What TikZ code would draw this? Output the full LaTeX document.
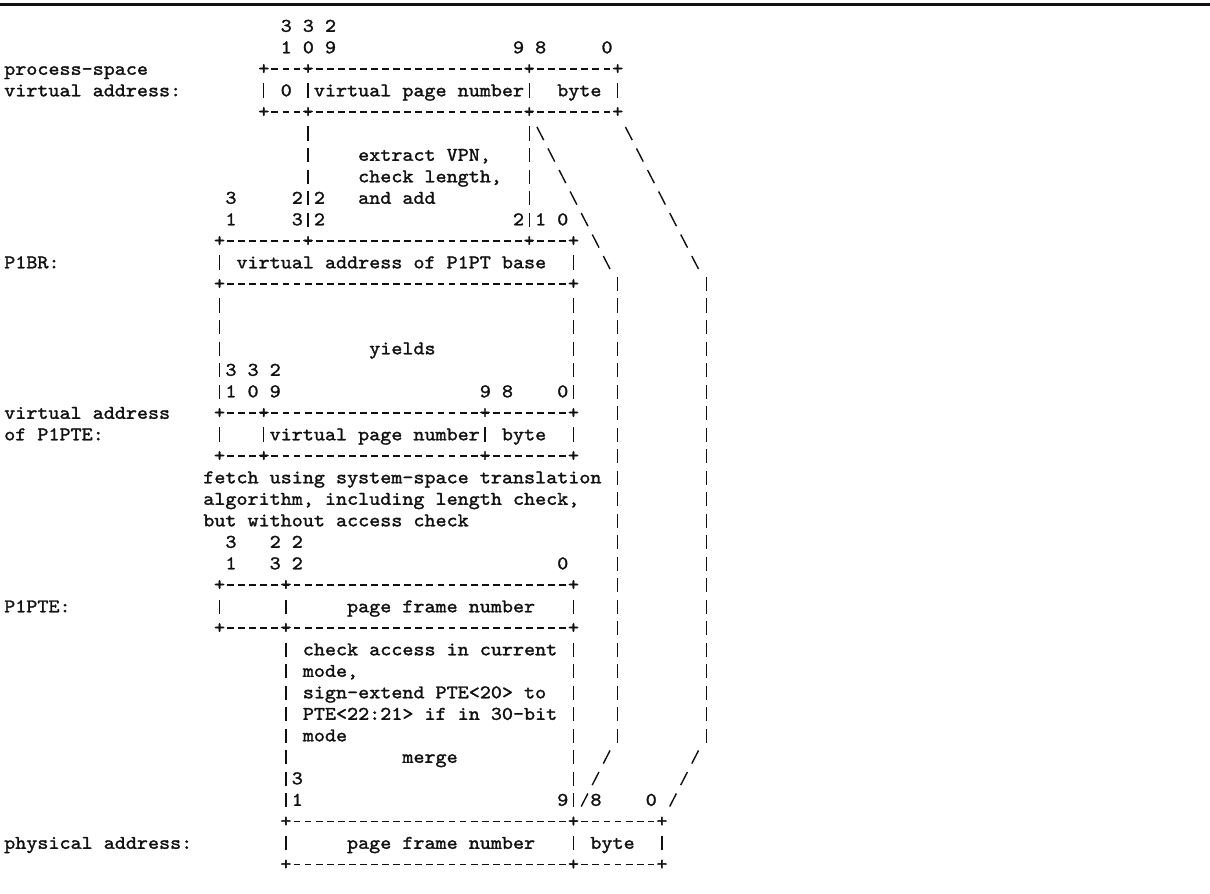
\documentclass[tikz,border=0pt]{standalone}
\usepackage{fontspec}
\newfontfamily\twfont{lmmono10-regular}[Extension=.otf, FakeBold=1.5, FakeStretch=1.09]
\usepackage{xcolor}
\usepackage{tikz}
\definecolor{ink}{HTML}{111111}
\newlength\cw
\settowidth\cw{\twfont\fontsize{11}{13}\selectfont 0}
\tikzset{
  tw/.style={font=\twfont\fontsize{11}{13}\selectfont, text=ink},
  txt/.style={tw, inner sep=0pt, anchor=base west, xshift=-0.5\cw, yshift=-3.3pt},
  plus/.style={tw, inner sep=0pt, anchor=base, yshift=-3.1pt},
  hline/.style={draw=ink, line width=0.8pt, dash pattern=on 3.9pt off 2.4pt,
    shorten <=4.35pt, shorten >=4.35pt},
  vline/.style={draw=ink, line width=0.8pt, dash pattern=on 8pt off 4.246pt,
    shorten <=8.246pt, shorten >=8.246pt},
  vrun/.style={vline, shorten <=-4pt, shorten >=-4pt},
  drun/.style={draw=ink, line width=0.8pt, dash pattern=on 8.4pt off 5.372pt,
    shorten <=9.572pt, shorten >=9.572pt},
}

\begin{document}
\begin{tikzpicture}[x=\cw, y=-1.9439\cw]
  \useasboundingbox (-0.85,-0.209) rectangle (108.55,41.326);
  \fill[white] (-0.85,-0.209) rectangle (108.55,41.326);
  \coordinate (rule-l) at (-0.85,0);
  \coordinate (rule-r) at (108.55,0);
  \draw[ink, line width=2pt] (rule-l) -- (rule-r);
  % Labels
  \node[txt] (lbl-ps) at (0,3) {process-space};
  \node[txt] (lbl-va) at (0,4) {virtual address:};
  \node[txt] (lbl-br) at (0,12) {P1BR:};
  \node[txt] (lbl-vp) at (0,19) {virtual address};
  \node[txt] (lbl-of) at (0,20) {of P1PTE:};
  \node[txt] (lbl-pt) at (0,28) {P1PTE:};
  \node[txt] (lbl-pa) at (0,39) {physical address:};
  % Process-space virtual address
  \foreach \cx in {23,27,47,55} {
    \coordinate (pv-t\cx) at (\cx,3);
    \coordinate (pv-b\cx) at (\cx,5);
    \draw[vline] (pv-t\cx) -- (pv-b\cx);
    \node[plus] (pv-t\cx-p) at (pv-t\cx) {+};
    \node[plus] (pv-b\cx-p) at (pv-b\cx) {+};
  }
  \draw[hline] (pv-t23) -- (pv-t55);
  \draw[hline] (pv-b23) -- (pv-b55);
  \node[txt] (d-pv1) at (25,1) {3 3 2};
  \node[txt] (d-pv2) at (25,2) {1 0 9};
  \node[txt] (d-pv9) at (46,2) {9 8};
  \node[txt] (d-pv0) at (54,2) {0};
  \node[txt] (pv-zero) at (25,4) {0};
  \node[txt] (pv-vpn) at (28,4) {virtual page number};
  \node[txt] (pv-byte) at (50,4) {byte};
  % Extract VPN
  \node[txt] (n-extract) at (32,7) {extract VPN,};
  \node[txt] (n-check) at (32,8) {check length,};
  \node[txt] (n-add) at (32,9) {and add};
  \node[txt] (d-br3) at (20,9) {3};
  \node[txt] (d-br1) at (20,10) {1};
  \node[txt] (d-br23a) at (26,9) {2};
  \node[txt] (d-br23b) at (26,10) {3};
  \node[txt] (d-br22a) at (28,9) {2};
  \node[txt] (d-br22b) at (28,10) {2};
  \node[txt] (d-br2) at (46,10) {2};
  \node[txt] (d-br10) at (48,10) {1 0};
  % P1BR
  \foreach \cx in {19,27,47,51} {
    \coordinate (br-t\cx) at (\cx,11);
    \node[plus] (br-t\cx-p) at (br-t\cx) {+};
  }
  \foreach \cx in {19,51} {
    \coordinate (br-b\cx) at (\cx,13);
    \draw[vline] (br-t\cx) -- (br-b\cx);
    \node[plus] (br-b\cx-p) at (br-b\cx) {+};
  }
  \draw[hline] (br-t19) -- (br-t51);
  \draw[hline] (br-b19) -- (br-b51);
  \node[txt] (br-text) at (21,12) {virtual address of P1PT base};
  \draw[vline] (pv-b27) -- (br-t27);
  \draw[vline] (pv-b47) -- (br-t47);
  % Yields
  \node[txt] (n-yields) at (33,16) {yields};
  \node[txt] (d-vp1) at (20,17) {3 3 2};
  \node[txt] (d-vp2) at (20,18) {1 0 9};
  \node[txt] (d-vp9) at (43,18) {9 8};
  \node[txt] (d-vp0) at (50,18) {0};
  % Virtual address of P1PTE
  \foreach \cx in {19,23,43,51} {
    \coordinate (vp-t\cx) at (\cx,19);
    \coordinate (vp-b\cx) at (\cx,21);
    \draw[vline] (vp-t\cx) -- (vp-b\cx);
    \node[plus] (vp-t\cx-p) at (vp-t\cx) {+};
    \node[plus] (vp-b\cx-p) at (vp-b\cx) {+};
  }
  \draw[hline] (vp-t19) -- (vp-t51);
  \draw[hline] (vp-b19) -- (vp-b51);
  \node[txt] (vp-vpn) at (24,20) {virtual page number};
  \node[txt] (vp-byte) at (45,20) {byte};
  \draw[vline] (br-b19) -- (vp-t19);
  \draw[vline] (br-b51) -- (vp-t51);
  % Fetch
  \node[txt] (n-fetch1) at (18,22) {fetch using system-space translation};
  \node[txt] (n-fetch2) at (18,23) {algorithm, including length check,};
  \node[txt] (n-fetch3) at (18,24) {but without access check};
  \node[txt] (d-pt3) at (20,25) {3};
  \node[txt] (d-pt1) at (20,26) {1};
  \node[txt] (d-pt23a) at (24,25) {2};
  \node[txt] (d-pt23b) at (24,26) {3};
  \node[txt] (d-pt22a) at (26,25) {2};
  \node[txt] (d-pt22b) at (26,26) {2};
  \node[txt] (d-pt0) at (50,26) {0};
  % P1PTE
  \foreach \cx in {19,25,51} {
    \coordinate (pt-t\cx) at (\cx,27);
    \coordinate (pt-b\cx) at (\cx,29);
    \draw[vline] (pt-t\cx) -- (pt-b\cx);
    \node[plus] (pt-t\cx-p) at (pt-t\cx) {+};
    \node[plus] (pt-b\cx-p) at (pt-b\cx) {+};
  }
  \draw[hline] (pt-t19) -- (pt-t51);
  \draw[hline] (pt-b19) -- (pt-b51);
  \node[txt] (pt-pfn) at (31,28) {page frame number};
  % Check access and merge
  \node[txt] (n-acc1) at (27,30) {check access in current};
  \node[txt] (n-acc2) at (27,31) {mode,};
  \node[txt] (n-acc3) at (27,32) {sign-extend PTE<20> to};
  \node[txt] (n-acc4) at (27,33) {PTE<22:21> if in 30-bit};
  \node[txt] (n-acc5) at (27,34) {mode};
  \node[txt] (n-merge) at (36,35) {merge};
  \node[txt] (d-pa3) at (26,36) {3};
  \node[txt] (d-pa1) at (26,37) {1};
  \node[txt] (d-pa9) at (50,37) {9};
  \node[txt] (d-pa8) at (53,37) {8};
  \node[txt] (d-pa0) at (58,37) {0};
  % Physical address
  \foreach \cx in {25,51,59} {
    \coordinate (pa-t\cx) at (\cx,38);
    \coordinate (pa-b\cx) at (\cx,40);
    \draw[vline] (pa-t\cx) -- (pa-b\cx);
    \node[plus] (pa-t\cx-p) at (pa-t\cx) {+};
    \node[plus] (pa-b\cx-p) at (pa-b\cx) {+};
  }
  \draw[hline] (pa-t25) -- (pa-t59);
  \draw[hline] (pa-b25) -- (pa-b59);
  \node[txt] (pa-pfn) at (31,39) {page frame number};
  \node[txt] (pa-byte) at (53,39) {byte};
  \draw[vline] (pt-b25) -- (pa-t25);
  \draw[vline] (pt-b51) -- (pa-t51);
  % Byte offset carried down
  \coordinate (mid-a) at (55,13);
  \coordinate (mid-b) at (55,34);
  \coordinate (out-a) at (63,13);
  \coordinate (out-b) at (63,34);
  \draw[drun] (pv-b47) -- (mid-a);
  \draw[vrun] (mid-a) -- (mid-b);
  \draw[drun] (mid-b) -- (pa-t51);
  \draw[drun] (pv-b55) -- (out-a);
  \draw[vrun] (out-a) -- (out-b);
  \draw[drun] (out-b) -- (pa-t59);
\end{tikzpicture}
\end{document}
